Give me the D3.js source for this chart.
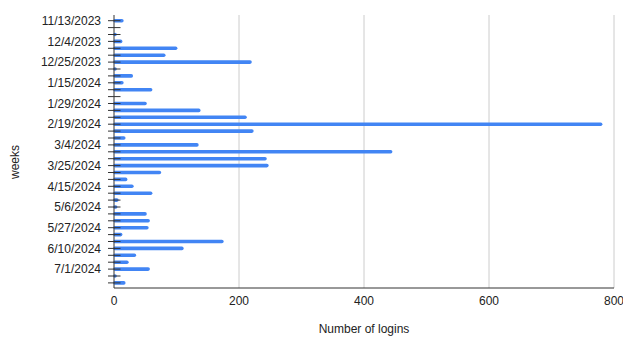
<!DOCTYPE html>
<html>
<head>
<meta charset="utf-8">
<script src="https://cdn.jsdelivr.net/npm/d3@7"></script>
<style>
  html, body { margin: 0; padding: 0; background: #fff; }
  svg { display: block; font-family: "Liberation Sans", Arial, sans-serif; }
</style>
</head>
<body>
<svg id="chart" width="623" height="337"></svg>
<script>
const weeks = [
  "11/13/2023", "11/20/2023", "11/27/2023", "12/4/2023", "12/11/2023", "12/18/2023",
  "12/25/2023", "1/1/2024", "1/8/2024", "1/15/2024", "1/22/2024", "1/22/2024 ",
  "1/29/2024", "2/5/2024", "2/12/2024", "2/19/2024", "2/26/2024", "2/26/2024 ",
  "3/4/2024", "3/11/2024", "3/18/2024", "3/25/2024", "4/1/2024", "4/8/2024",
  "4/15/2024", "4/22/2024", "4/29/2024", "5/6/2024", "5/13/2024", "5/20/2024",
  "5/27/2024", "6/3/2024", "6/3/2024 ", "6/10/2024", "6/17/2024", "6/24/2024",
  "7/1/2024", "7/8/2024", "7/15/2024"
];
const logins = [
  15, 0, 3, 13, 101, 82,
  220, 2, 30, 15, 61, 0,
  52, 138, 212, 781, 223, 18,
  135, 445, 244, 247, 75, 21,
  31, 61, 7, 5, 52, 57,
  55, 13, 175, 111, 35, 23,
  57, 3, 18
];
const xTicks = [0, 200, 400, 600, 800];
const xTitle = "Number of logins";
const yTitle = "weeks";

const svg = d3.select("#chart");
const mLeft = 114, mRight = 614, mTop = 15, mBottom = 288;

const x = d3.scaleLinear().domain([0, 800]).range([mLeft, mRight]);
const y = d3.scalePoint().domain(weeks).range([20.7, 282.9]);

// gridlines
svg.append("g").selectAll("line").data(xTicks.slice(1)).join("line")
  .attr("x1", d => x(d)).attr("x2", d => x(d))
  .attr("y1", mTop).attr("y2", mBottom)
  .attr("stroke", "#cccccc").attr("stroke-width", 1);

// bars (rounded thick lines)
svg.append("g").selectAll("line").data(weeks.map((w, i) => ({w, v: logins[i]}))).join("line")
  .attr("x1", x(0) + 1).attr("x2", d => Math.max(x(0) + 1, x(d.v) - 1.5))
  .attr("y1", d => y(d.w)).attr("y2", d => y(d.w))
  .attr("stroke", "#4285f4").attr("stroke-width", d => d.v > 0 ? 3.6 : 0)
  .attr("stroke-linecap", "round");

// y ticks
svg.append("g").selectAll("line").data(weeks).join("line")
  .attr("x1", mLeft - 6).attr("x2", mLeft + 6.5)
  .attr("y1", d => y(d)).attr("y2", d => y(d))
  .attr("stroke", "#333333").attr("stroke-width", 1);

// axis lines
svg.append("line").attr("x1", mLeft).attr("x2", mLeft).attr("y1", mTop).attr("y2", mBottom)
  .attr("stroke", "#333333").attr("stroke-width", 1);
svg.append("line").attr("x1", mLeft).attr("x2", mRight).attr("y1", mBottom).attr("y2", mBottom)
  .attr("stroke", "#333333").attr("stroke-width", 1);

// y labels (every third)
svg.append("g").selectAll("text").data(weeks.filter((d, i) => i % 3 === 0)).join("text")
  .attr("x", 101).attr("y", d => y(d))
  .attr("dy", "0.35em").attr("text-anchor", "end")
  .attr("font-size", 12).attr("fill", "#222222")
  .text(d => d.trim());

// x labels
svg.append("g").selectAll("text").data(xTicks).join("text")
  .attr("x", d => x(d)).attr("y", 305)
  .attr("text-anchor", "middle").attr("font-size", 12).attr("fill", "#222222")
  .text(d => d);

// titles
svg.append("text").attr("x", 364).attr("y", 333)
  .attr("text-anchor", "middle").attr("font-size", 12).attr("fill", "#222222")
  .text(xTitle);
svg.append("text").attr("transform", "translate(19,162) rotate(-90)")
  .attr("text-anchor", "middle").attr("font-size", 12).attr("fill", "#222222")
  .text(yTitle);
</script>
</body>
</html>
